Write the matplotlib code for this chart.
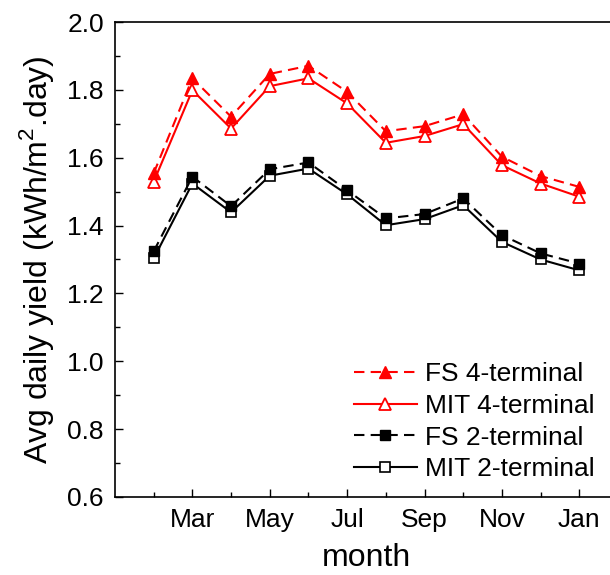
import matplotlib
matplotlib.use('Agg')
import matplotlib.pyplot as plt
from matplotlib.ticker import MultipleLocator, FixedLocator

plt.rcParams['font.family'] = ['Liberation Sans', 'DejaVu Sans']
plt.rcParams['mathtext.fontset'] = 'custom'
plt.rcParams['mathtext.rm'] = 'Liberation Sans'

# data (Feb .. Jan)
months = [2, 3, 4, 5, 6, 7, 8, 9, 10, 11, 12, 13]
month_ticks = [3, 5, 7, 9, 11, 13]
month_labels = ['Mar', 'May', 'Jul', 'Sep', 'Nov', 'Jan']

fs_4t = [1.554, 1.834, 1.721, 1.847, 1.871, 1.794, 1.678, 1.693, 1.728, 1.603, 1.546, 1.514]
mit_4t = [1.529, 1.799, 1.686, 1.811, 1.834, 1.760, 1.644, 1.664, 1.699, 1.578, 1.524, 1.485]
fs_2t = [1.324, 1.544, 1.457, 1.566, 1.586, 1.504, 1.421, 1.434, 1.480, 1.372, 1.318, 1.288]
mit_2t = [1.303, 1.524, 1.439, 1.547, 1.568, 1.492, 1.401, 1.419, 1.460, 1.352, 1.300, 1.268]

fig = plt.figure(figsize=(6.1, 5.75), dpi=100)
# axes deliberately run past the right edge (right spine is cropped in the original)
ax = fig.add_axes([0.1885, 0.1357, 0.8246, 0.826])

red = '#FF0000'
ax.plot(months, fs_4t, color=red, ls=(0, (5, 3)), lw=1.5, marker='^', ms=9,
        mfc=red, mec=red, label='FS 4-terminal', zorder=4)
ax.plot(months, mit_4t, color=red, ls='-', lw=1.5, marker='^', ms=9,
        mfc='white', mec=red, mew=1.3, label='MIT 4-terminal', zorder=3)
ax.plot(months, fs_2t, color='black', ls=(0, (5, 3)), lw=1.5, marker='s', ms=7,
        mfc='black', mec='black', label='FS 2-terminal', zorder=4)
ax.plot(months, mit_2t, color='black', ls='-', lw=1.5, marker='s', ms=7,
        mfc='white', mec='black', mew=1.2, label='MIT 2-terminal', zorder=3)

ax.set_xlim(1, 14)
ax.set_ylim(0.6, 2.0)
ax.xaxis.set_major_locator(FixedLocator(month_ticks))
ax.set_xticklabels(month_labels)
ax.xaxis.set_minor_locator(FixedLocator([2, 4, 6, 8, 10, 12]))
ax.yaxis.set_major_locator(MultipleLocator(0.2))
ax.yaxis.set_minor_locator(MultipleLocator(0.1))
ax.yaxis.set_major_formatter(matplotlib.ticker.FormatStrFormatter('%.1f'))

ax.tick_params(which='both', direction='in', labelsize=19, pad=8)
ax.tick_params(which='major', length=6, width=1)
ax.tick_params(which='minor', length=3.5, width=1)
for s in ax.spines.values():
    s.set_linewidth(1.2)

ax.set_xlabel('month', fontsize=23, labelpad=8)
ax.set_ylabel('Avg daily yield (kWh/m$^2$.day)', fontsize=23, labelpad=8)

ax.legend(loc='lower right', bbox_to_anchor=(1.005, 0.131), bbox_transform=fig.transFigure,
          frameon=False, fontsize=19, numpoints=1, handlelength=2.4,
          handletextpad=0.3, labelspacing=0.29, borderpad=0.2)

fig.savefig('out.png', dpi=100)
